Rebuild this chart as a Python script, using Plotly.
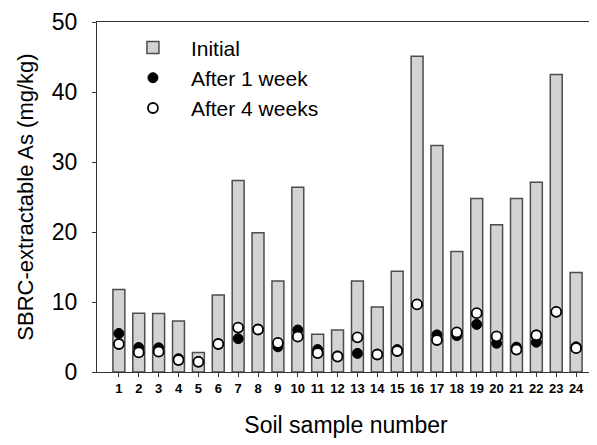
import plotly.graph_objects as go

samples = list(range(1, 25))
initial = [11.8, 8.4, 8.35, 7.3, 2.8, 11.0, 27.35, 19.9, 13.0, 26.4, 5.4, 6.0,
           13.0, 9.3, 14.4, 45.1, 32.35, 17.2, 24.8, 21.05, 24.8, 27.1, 42.5, 14.2]
week1 = [5.5, 3.5, 3.45, 1.9, 1.5, 4.0, 4.76, 6.07, 3.6, 6.0, 3.2, 2.3,
         2.66, 2.5, 3.2, 9.66, 5.3, 5.2, 6.8, 4.1, 3.55, 4.25, 8.6, 3.6]
week4 = [4.0, 2.8, 2.9, 1.7, 1.45, 4.0, 6.35, 6.07, 4.15, 5.05, 2.7, 2.2,
         4.95, 2.5, 3.0, 9.66, 4.57, 5.65, 8.4, 5.1, 3.2, 5.25, 8.6, 3.4]
y_ticks = [0, 10, 20, 30, 40, 50]

font_family = "Liberation Sans, Arial, sans-serif"

fig = go.Figure()
fig.add_trace(go.Bar(
    x=samples, y=initial, name="Initial", width=0.6, legendgroup="a",
    marker=dict(color="#d3d3d3", line=dict(color="#4d4d4d", width=1.5)),
))
fig.add_trace(go.Scatter(
    x=samples, y=week1, name="After 1 week", mode="markers", legendgroup="b",
    marker=dict(symbol="circle", size=10, color="black", line=dict(color="black", width=1)),
))
fig.add_trace(go.Scatter(
    x=samples, y=week4, name="After 4 weeks", mode="markers", legendgroup="c",
    marker=dict(symbol="circle", size=10, color="white", line=dict(color="black", width=1.8)),
))

# page body has an 8px margin, so the figure is sized/offset to compensate
fig.update_layout(
    width=589, height=437,
    margin=dict(l=89, r=1, t=7, b=73),
    paper_bgcolor="white", plot_bgcolor="white",
    font=dict(family=font_family, color="black"),
    showlegend=True,
    legend=dict(x=0.036, y=0.985, xanchor="left", yanchor="top",
                font=dict(size=21, family=font_family), bgcolor="rgba(0,0,0,0)",
                tracegroupgap=0, itemwidth=66),
    bargap=0.4,
)
fig.update_xaxes(
    range=[-0.1, 24.95], tickmode="array", tickvals=samples,
    ticktext=["<b>%d</b>" % s for s in samples],
    tickfont=dict(size=13, family=font_family),
    ticks="outside", ticklen=4, tickcolor="#333333",
    showline=True, linecolor="#333333", linewidth=1.2, mirror=True,
    showgrid=False, zeroline=False,
    title=dict(text="Soil sample number", font=dict(size=23), standoff=22),
)
fig.update_yaxes(
    range=[0, 50], tickvals=y_ticks,
    tickfont=dict(size=23, family=font_family),
    ticks="outside", ticklen=4, tickcolor="#333333", ticklabelstandoff=10,
    ticklabeloverflow="allow",
    showline=True, linecolor="#333333", linewidth=1.2, mirror=True,
    showgrid=False, zeroline=False,
    title=dict(text="SBRC-extractable As (mg/kg)", font=dict(size=22), standoff=12),
)

fig.write_html("out.html")
